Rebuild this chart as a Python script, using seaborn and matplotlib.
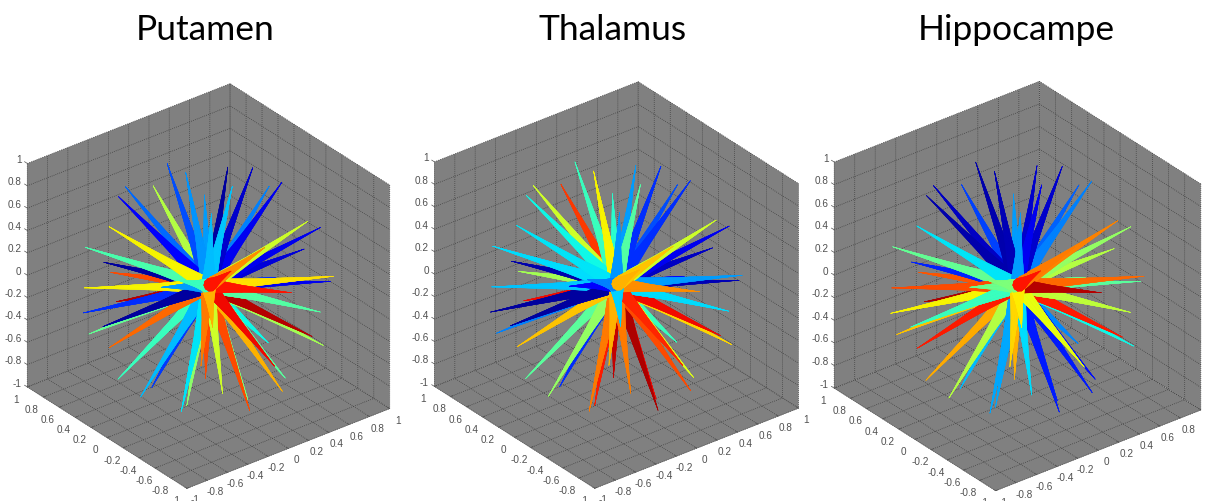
import numpy as np
import matplotlib
matplotlib.use('Agg')
import matplotlib.pyplot as plt
import seaborn as sns
from mpl_toolkits.mplot3d import proj3d
from mpl_toolkits.mplot3d.art3d import Poly3DCollection

# spike tips (same directions in the three panels)
tip_x = [.032, -.102, -.239, -.428, .151, .572, -.253, .595, .063, .445, .838, .603,
         .548, .714, .995, .658, .927, .885, .079, .374, .268, .581, .639, .448,
         -.108, .158, -.075, .165, -.462, .135, -.655, -.243, -.515, -.357, -.703, -.799,
         .124, -.983, -.808, -1.0, -.894, -.233, -.908, -.218, -.284, -.666, -.700, -.580,
         -.684, -.351, -.787, -.021]
tip_y = [.559, .156, .737, .584, .885, .779, -.359, .514, -.219, .011, .304, -.154,
         -.547, -.498, .067, -.731, -.350, .279, -.938, -.925, -.957, -.701, .062, -.392,
         -.964, -.724, -.613, -.284, -.764, .210, -.738, -.036, -.313, .257, -.044, .119,
         .653, -.010, .471, .052, .434, .860, .403, .948, .951, .699, .357, -.790,
         -.504, -.728, -.409, -.733]
tip_z = [.831, .981, .639, .688, .441, .257, .900, .618, .971, .894, .456, .783,
         .631, .496, -.055, .183, -.131, -.364, .337, .053, -.113, -.421, -.766, -.806,
         -.242, -.670, -.810, -.946, -.453, -.970, -.147, -.970, -.798, -.897, -.720, -.602,
         -.742, -.194, -.355, -.030, -.119, -.447, .124, -.231, -.118, .267, .619, .196,
         .520, .589, .456, .685]

# colour value of each spike on the jet scale
putamen = [.20, .27, .23, .12, .57, .28, .31, .03, .32, .07, .25, .10,
           .60, .10, .08, .67, .10, .17, .89, .45, .95, .55, .37, .46,
           .90, .72, .83, .50, .60, .83, .78, .52, .35, .18, .31, .42,
           .85, .80, .47, .03, .17, .95, .65, .83, .03, .44, .65, .72,
           .42, .89, .28, .76]
thalamus = [.42, .65, .60, .37, .85, .40, .27, .28, .45, .17, .20, .17,
            .60, .10, .06, .28, .05, .13, .76, .34, .90, .68, .42, .62,
            .87, .83, .96, .90, .78, .94, .72, .88, .78, .17, .53, .46,
            .85, .70, .25, .03, .03, .90, .32, .55, .04, .34, .35, .33,
            .25, .72, .11, .70]
hippocampe = [.04, .05, .06, .04, .19, .28, .28, .07, .10, .07, .22, .25,
              .77, .53, .57, .80, .46, .48, .95, .58, .88, .37, .26, .14,
              .63, .15, .15, .16, .34, .72, .68, .29, .29, .31, .57, .73,
              .88, .88, .70, .42, .65, .96, .83, .82, .16, .47, .35, .66,
              .50, .89, .48, .78]

titles = ['Putamen', 'Thalamus', 'Hippocampe']
ticks = [-1, -.8, -.6, -.4, -.2, 0, .2, .4, .6, .8, 1]
tick_labels = ['-1', '-0.8', '-0.6', '-0.4', '-0.2', '0', '0.2', '0.4', '0.6', '0.8', '1']

ELEV, AZIM = 30, -128.2
W, H = 1206, 502

sns.set_theme(style='white')
plt.rcParams['font.family'] = ['Liberation Sans', 'DejaVu Sans']
jet = matplotlib.colormaps['jet']

# camera direction, used to paint back spikes first
a, e = np.radians(AZIM), np.radians(ELEV)
cam = np.array([np.cos(a) * np.cos(e), np.sin(a) * np.cos(e), np.sin(e)])


def spike_polys(tip, n=10):
    # cone from close to the centre to the tip, a bit concave
    tip = np.array(tip)
    d = tip / np.linalg.norm(tip)
    p = np.cross(d, [0.3, 0.5, 0.8])
    p = p / np.linalg.norm(p)
    q = np.cross(d, p)
    ang = np.linspace(0, 2 * np.pi, n + 1)
    circle = np.outer(np.cos(ang), p) + np.outer(np.sin(ang), q)
    ring1 = 0.08 * tip + 0.052 * circle
    ring2 = 0.40 * tip + 0.028 * circle
    polys = []
    for i in range(n):
        polys.append([0.0 * tip, ring1[i], ring1[i + 1]])
        polys.append([ring1[i], ring1[i + 1], ring2[i + 1], ring2[i]])
        polys.append([ring2[i], ring2[i + 1], tip])
    return polys


fig = plt.figure(figsize=(W / 100, H / 100), dpi=100, facecolor='white')

# centre of each cube and axes size in pixels, then title centre
panels = [(208.5, 287, 434, 205.5), (616.5, 286, 436, 612.5), (1017.5, 287, 439, 1016)]

for title, vals, (cx, cy, size, title_x) in zip(titles, [putamen, thalamus, hippocampe], panels):
    left = cx - 0.5135 * size
    bottom = (H - cy) - 0.5135 * size
    ax = fig.add_axes([left / W, bottom / H, size / W, size / H], projection='3d',
                      computed_zorder=False)
    ax.set_proj_type('ortho')
    ax.set_box_aspect((1, 1, 1))
    ax.view_init(elev=ELEV, azim=AZIM)
    ax.patch.set_alpha(0)
    ax.set_xlim(-1, 1)
    ax.set_ylim(-1, 1)
    ax.set_zlim(-1, 1)

    for axis, setter in [(ax.xaxis, ax.set_xticks), (ax.yaxis, ax.set_yticks), (ax.zaxis, ax.set_zticks)]:
        setter(ticks)
        axis.set_ticklabels(tick_labels)
        axis.set_pane_color((0.5, 0.5, 0.5, 1))
        axis.pane.set_edgecolor((0.5, 0.5, 0.5, 1))
        axis.pane.set_linewidth(0)
        axis.line.set_color('#686868')
        axis.line.set_linewidth(0.4)
        axis._axinfo['grid'].update(color='#383838', linestyle=':', linewidth=0.55)
        axis._axinfo['tick'].update(inward_factor=0.0, outward_factor=0.15, linewidth={True: 0.5, False: 0.5})
    ax.zaxis._axinfo['tick'].update(outward_factor=0.0)
    ax.grid(True)
    ax.tick_params(axis='x', labelsize=7.2, labelcolor='#505050', color='#505050', pad=0)
    ax.tick_params(axis='y', labelsize=7.2, labelcolor='#505050', color='#505050', pad=1)
    ax.zaxis.set_ticks_position('upper')
    for axis in (ax.xaxis, ax.yaxis):
        for tick in axis.get_major_ticks():
            tick.label1.set_va('bottom')
    for tick in ax.zaxis.get_major_ticks():
        tick.label1.set_visible(False)

    # z labels sit on the left corner of the cube, ticks going along y
    for t, lab in zip(ticks, tick_labels):
        ax.plot([-1, -1], [1, 1.035], [t, t], color='#505050', lw=0.5)
        px, py, _ = proj3d.proj_transform(-1, 1.07, t + 0.008, ax.get_proj())
        ax.text2D(px, py, lab, transform=ax.transData, fontsize=7.2, color='#505050',
                  ha='right', va='center')

    for x, y, z, v in zip(tip_x, tip_y, tip_z, vals):
        coll = Poly3DCollection(spike_polys((x, y, z)), facecolors=jet(v), edgecolors=jet(v),
                                linewidths=0.2)
        coll.set_zorder(10 + np.dot(cam, [x, y, z]))
        ax.add_collection3d(coll)

    fig.text(title_x / W, 1 - 30 / H, title, fontsize=25.5, family='Lato', color='black',
             ha='center', va='center')

fig.savefig('out.png', dpi=100)
